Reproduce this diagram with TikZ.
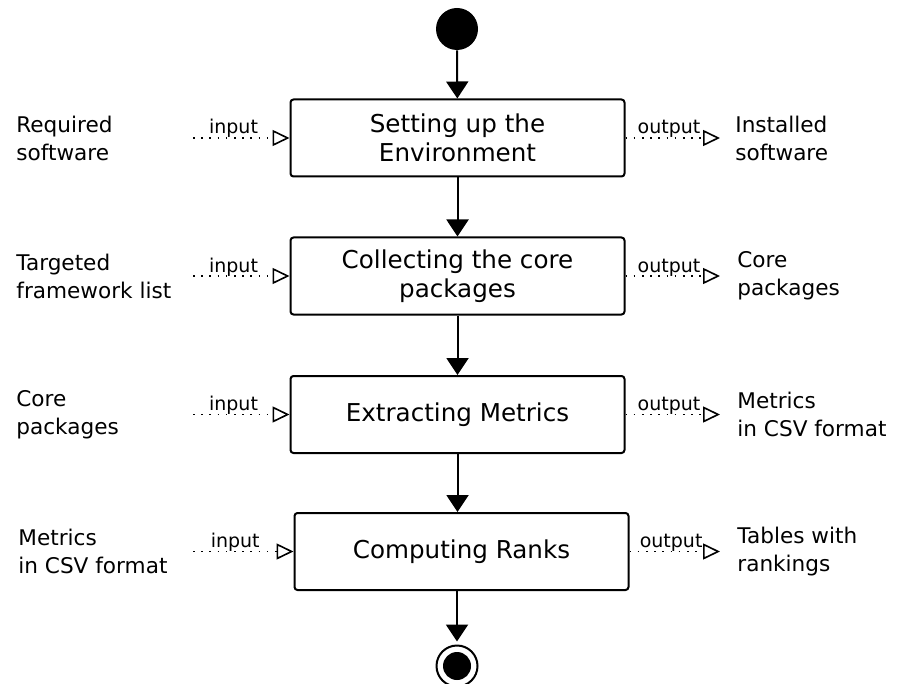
\documentclass[tikz,border=0pt]{standalone}
\usepackage{fontspec}
\setmainfont{DejaVu Sans}
\usetikzlibrary{arrows.meta}

\begin{document}
\begin{tikzpicture}[x=0.5pt,y=-0.5pt,
    stage/.style={draw,line width=1pt,rounded corners=1.5pt,
      minimum width=167pt,minimum height=38.5pt,align=center,
      font=\fontsize{12.3}{14.5}\selectfont},
    side/.style={anchor=west,align=left,inner sep=0pt,
      font=\fontsize{10.8}{14}\selectfont},
    flow/.style={line width=1pt,-{Triangle[length=8.5pt,width=11pt]}},
    io/.style={line width=0.8pt,dash pattern=on 0.8pt off 3.3pt,
      -{Triangle[open,length=8.5pt,width=8pt,line width=0.8pt]}},
    iolabel/.style={anchor=base,inner sep=0pt,yshift=2pt,
      font=\fontsize{9.5}{11}\selectfont}]
    \useasboundingbox (0,0) rectangle (904,684);
    \node[circle,fill,inner sep=0pt,minimum size=21pt] (start) at (457,29) {};
    \node[stage] (env) at (457.5,138) {Setting up the\\Environment};
    \node[stage] (collect) at (457.5,276) {Collecting the core\\packages};
    \node[stage] (extract) at (457.5,414.5) {Extracting Metrics};
    \node[stage] (rank) at (461.5,551.5) {Computing Ranks};
    \node[circle,draw,line width=1pt,inner sep=0pt,minimum size=20.5pt] (stop) at (457,666) {};
    \fill (stop.center) circle (7pt);

    \node[side] (req) at (16,138) {Required\\software};
    \node[side] (target) at (16,276) {Targeted\\framework list};
    \node[side] (corein) at (16,414.5) {Core\\packages};
    \node[side] (csvin) at (18,551.5) {Metrics\\in CSV format};
    \node[side] (inst) at (735,138) {Installed\\software};
    \node[side] (coreout) at (737,276) {Core\\packages};
    \node[side] (csvout) at (737,414.5) {Metrics\\in CSV format};
    \node[side] (tables) at (737,551.5) {Tables with\\rankings};

    \draw[flow] (start) -- (env);
    \draw[flow] (env) -- (collect);
    \draw[flow] (collect) -- (extract);
    \draw[flow] (extract.south) -- (rank.north -| extract.south);
    \draw[flow,shorten >=1.5pt] (rank.south -| stop) -- (stop);

    \coordinate (inx) at (193,0);
    \coordinate (outx) at (720,0);
    \foreach \s in {env,collect,extract,rank} {
      \draw[io] (\s.west -| inx) -- node[iolabel,pos=0.42] {input} (\s.west);
      \draw[io] (\s.east) -- node[iolabel,pos=0.46] {output} (\s.east -| outx);
    }
  \end{tikzpicture}
\end{document}
